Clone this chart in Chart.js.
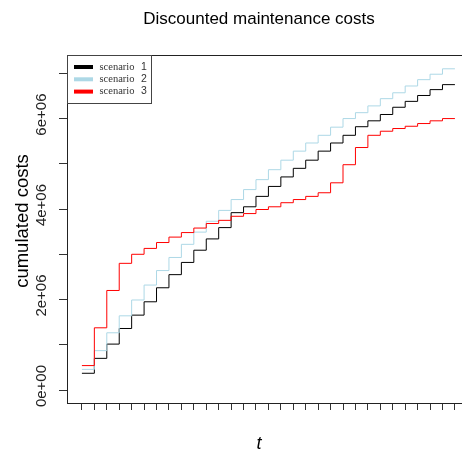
<!DOCTYPE html>
<html>
<head>
<meta charset="utf-8">
<script src="https://cdn.jsdelivr.net/npm/chart.js@4.4.1/dist/chart.umd.min.js"></script>
<style>
  body { margin: 0; background: #fff; }
  canvas { display: block; }
</style>
</head>
<body>
<canvas id="costChart" width="462" height="452"></canvas>
<script>
// periods (x positions of the steps)
const periods = [0, 1, 2, 3, 4, 5, 6, 7, 8, 9, 10, 11, 12, 13, 14, 15,
  16, 17, 18, 19, 20, 21, 22, 23, 24, 25, 26, 27, 28, 29, 30];

// cumulated discounted costs per scenario
const scenario1 = [370000, 700000, 1015000, 1360000, 1655000, 1950000, 2260000, 2550000,
  2820000, 3090000, 3340000, 3590000, 3920000, 4050000, 4280000, 4500000, 4710000,
  4900000, 5080000, 5280000, 5460000, 5630000, 5820000, 5950000, 6090000, 6250000,
  6380000, 6510000, 6640000, 6750000, 6750000];
const scenario2 = [456000, 870000, 1265000, 1640000, 1990000, 2320000, 2640000, 2930000,
  3220000, 3490000, 3730000, 3970000, 4210000, 4430000, 4650000, 4870000, 5080000,
  5280000, 5460000, 5630000, 5810000, 6000000, 6130000, 6280000, 6440000, 6570000,
  6720000, 6860000, 6980000, 7100000, 7100000];
const scenario3 = [540000, 1375000, 2200000, 2800000, 3000000, 3130000, 3260000, 3380000,
  3480000, 3580000, 3680000, 3750000, 3840000, 3900000, 3990000, 4050000, 4140000,
  4210000, 4280000, 4360000, 4580000, 4980000, 5360000, 5630000, 5720000, 5780000,
  5830000, 5890000, 5950000, 6000000, 6000000];

const legendWords = ["scenario", "scenario", "scenario"];
const legendNumbers = ["1", "2", "3"];
const seriesColors = ["#000000", "#add8e6", "#ff0000"];

const yTickValues = [0, 1000000, 2000000, 3000000, 4000000, 5000000, 6000000, 7000000];
const yTickLabels = ["0e+00", "", "2e+06", "", "4e+06", "", "6e+06", ""];

const titleText = "Discounted maintenance costs";
const xTitle = "t";
const yTitle = "cumulated costs";

const toPoints = (values) => periods.map((t, i) => ({ x: t, y: values[i] }));

const decorations = {
  id: "decorations",
  afterDraw(chart) {
    const { ctx, chartArea, scales } = chart;
    ctx.save();

    // top of the box
    ctx.strokeStyle = "#222";
    ctx.lineWidth = 1;
    ctx.beginPath();
    ctx.moveTo(chartArea.left, Math.round(chartArea.top) + 0.5);
    ctx.lineTo(chartArea.right, Math.round(chartArea.top) + 0.5);
    ctx.stroke();

    ctx.fillStyle = "#000";
    // title
    ctx.font = "17px 'Liberation Sans', Arial, sans-serif";
    ctx.textAlign = "center";
    ctx.textBaseline = "alphabetic";
    ctx.fillText(titleText, 259, 23.5);

    // x label
    ctx.font = "italic 18px 'Liberation Sans', Arial, sans-serif";
    ctx.fillText(xTitle, 259, 449);

    // y label
    ctx.save();
    ctx.translate(27.5, 221);
    ctx.rotate(-Math.PI / 2);
    ctx.font = "18.5px 'Liberation Sans', Arial, sans-serif";
    ctx.fillText(yTitle, 0, 0);
    ctx.restore();

    // y tick labels, written along the axis like R does
    ctx.font = "15px 'Liberation Sans', Arial, sans-serif";
    ctx.fillStyle = "#222";
    yTickValues.forEach((v, i) => {
      if (!yTickLabels[i]) return;
      const y = scales.y.getPixelForValue(v);
      ctx.save();
      ctx.translate(46, y - 4);
      ctx.rotate(-Math.PI / 2);
      ctx.fillText(yTickLabels[i], 0, 0);
      ctx.restore();
    });

    // legend box
    const lx = chartArea.left, ly = chartArea.top;
    ctx.fillStyle = "#fff";
    ctx.fillRect(lx, ly, 84, 48);
    ctx.strokeStyle = "#444";
    ctx.strokeRect(Math.round(lx) + 0.5, Math.round(ly) + 0.5, 84, 48);
    legendNumbers.forEach((num, i) => {
      const ry = ly + 12 + i * 12.3;
      ctx.strokeStyle = seriesColors[i];
      ctx.lineWidth = 4;
      ctx.beginPath();
      ctx.moveTo(lx + 7, ry);
      ctx.lineTo(lx + 26, ry);
      ctx.stroke();
      ctx.fillStyle = "#333";
      ctx.textAlign = "left";
      ctx.textBaseline = "middle";
      ctx.font = "10.5px 'Liberation Serif', 'Times New Roman', serif";
      ctx.fillText(legendWords[i], lx + 32.5, ry);
      ctx.font = "10.5px 'Liberation Sans', Arial, sans-serif";
      ctx.fillText(num, lx + 74, ry);
    });

    ctx.restore();
  }
};

new Chart(document.getElementById("costChart"), {
  type: "line",
  data: {
    datasets: [
      { label: "scenario 1", data: toPoints(scenario1), borderColor: seriesColors[0], order: 3 },
      { label: "scenario 2", data: toPoints(scenario2), borderColor: seriesColors[1], order: 2 },
      { label: "scenario 3", data: toPoints(scenario3), borderColor: seriesColors[2], order: 1 },
    ].map((d) => ({ ...d, borderWidth: 1, pointRadius: 0, stepped: true, fill: false })),
  },
  options: {
    responsive: false,
    animation: false,
    devicePixelRatio: 1,
    layout: { padding: { top: 55, right: 0, bottom: 0, left: 0 } },
    plugins: {
      legend: { display: false },
      title: { display: false },
      tooltip: { enabled: false },
    },
    scales: {
      x: {
        type: "linear",
        min: -1.2,
        max: 30.57,
        afterBuildTicks: (scale) => {
          scale.ticks = periods.map((v) => ({ value: v }));
        },
        afterFit: (scale) => {
          scale.height = 49;
        },
        ticks: { display: false },
        grid: { drawOnChartArea: false, drawTicks: true, tickLength: 7, color: "#333" },
        border: { display: true, color: "#222", width: 1 },
      },
      y: {
        type: "linear",
        min: -287000,
        max: 7405000,
        afterBuildTicks: (scale) => {
          scale.ticks = yTickValues.map((v) => ({ value: v }));
        },
        afterFit: (scale) => {
          scale.width = 67;
        },
        ticks: { display: false },
        grid: { drawOnChartArea: false, drawTicks: true, tickLength: 8, color: "#333" },
        border: { display: true, color: "#222", width: 1 },
      },
    },
  },
  plugins: [decorations],
});
</script>
</body>
</html>
